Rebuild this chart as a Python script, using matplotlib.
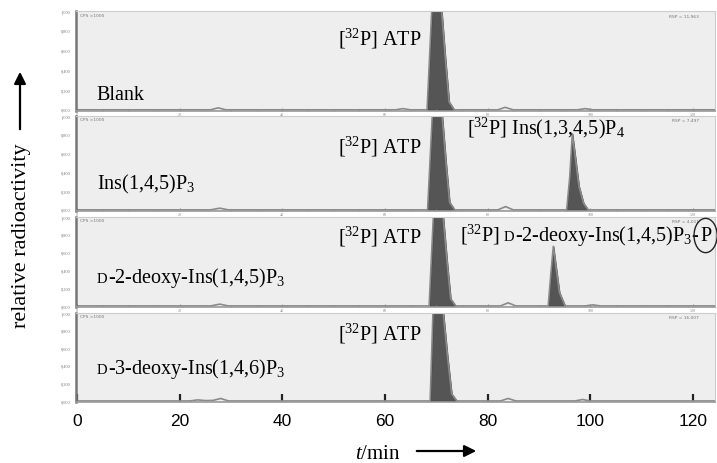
import numpy as np
import matplotlib
matplotlib.use("Agg")
import matplotlib.pyplot as plt
from matplotlib.patches import FancyArrowPatch

plt.rcParams['font.family'] = ['Liberation Serif', 'DejaVu Serif']
plt.rcParams['mathtext.fontset'] = 'custom'
plt.rcParams['mathtext.rm'] = 'Liberation Serif'
plt.rcParams['mathtext.it'] = 'Liberation Serif:italic'

# traces (time in min, relative radioactivity 0..1, ATP peak runs off scale)
blank_t = [0, 26, 27.5, 29, 62, 63.5, 65, 68.2, 69.2, 70.9, 71.8, 72.5, 73.5, 82, 83.4, 85, 97.5, 99, 100.5, 125]
blank_y = [0, 0, 0.02, 0, 0, 0.012, 0, 0, 1.1, 1.1, 0.5, 0.08, 0, 0, 0.025, 0, 0, 0.012, 0, 0]

ins145_t = [0, 26, 27.8, 29.5, 68.3, 69.3, 71.0, 71.9, 72.6, 73.6, 82, 83.5, 85, 95.4, 96.0, 96.5, 97.0, 97.8, 98.7, 99.6, 125]
ins145_y = [0, 0, 0.018, 0, 0, 1.1, 1.1, 0.5, 0.08, 0, 0, 0.035, 0, 0, 0.35, 0.81, 0.6, 0.25, 0.07, 0, 0]

deoxy2_t = [0, 26, 27.8, 29.5, 68.6, 69.5, 71.2, 72.1, 72.8, 73.8, 82.5, 84.0, 85.5, 91.8, 92.3, 92.8, 93.3, 94.0, 95.1, 99, 100.5, 102, 125]
deoxy2_y = [0, 0, 0.02, 0, 0, 1.1, 1.1, 0.5, 0.08, 0, 0, 0.035, 0, 0, 0.35, 0.67, 0.45, 0.15, 0, 0, 0.012, 0, 0]

deoxy3_t = [0, 22, 23.5, 25, 26.5, 28, 29.5, 68.8, 69.4, 71.2, 72.2, 73.0, 74.0, 82.5, 84.0, 85.5, 97, 98.5, 100, 125]
deoxy3_y = [0, 0, 0.012, 0.004, 0.006, 0.028, 0, 0, 1.1, 1.1, 0.5, 0.08, 0, 0, 0.028, 0, 0, 0.016, 0, 0]

# integrated (shaded) peak windows per run
peak_windows = [[(68.2, 73.5)],
                [(68.3, 73.6), (95.4, 99.6)],
                [(68.6, 73.8), (91.8, 95.1)],
                [(68.8, 74.0)]]

traces = [(blank_t, blank_y), (ins145_t, ins145_y), (deoxy2_t, deoxy2_y), (deoxy3_t, deoxy3_y)]
rsp_labels = ['RSP = 11,963', 'RSP = 7,497', 'RSP = 4,011', 'RSP = 16,007']
x_ticks = [0, 20, 40, 60, 80, 100, 120]
y_ticks = [0, 0.2, 0.4, 0.6, 0.8, 1.0]
y_tick_labels = ['0,000', '0,200', '0,400', '0,600', '0,800', '1,000']

W, H = 717, 464
fig = plt.figure(figsize=(W / 100, H / 100), dpi=100)
renderer = fig.canvas.get_renderer()

def fx(px):
    return px / W

def fy(py):
    return 1 - py / H

def chain(x_px, y_px, pieces):
    # pieces of text laid side by side on one baseline; (text, size, gap after, extra kwargs)
    x = x_px
    out = None
    for s, size, gap, kw in pieces:
        out = fig.text(fx(x), fy(y_px), s, fontsize=size, va='baseline', **kw)
        x = out.get_window_extent(renderer).x1 + gap
    return out

panel_rows = [(12, 112), (117, 212), (218, 308), (314, 403)]
left_px, right_px = 76, 715
axes = []
for i, (top, bot) in enumerate(panel_rows):
    ax = fig.add_axes([fx(left_px), fy(bot), fx(right_px - left_px), (bot - top) / H])
    ax.set_facecolor('#eeeeee')
    t, y = np.array(traces[i][0]), np.array(traces[i][1])
    ax.plot(t, y, color='#8a8a8a', lw=1.2)
    for lo, hi in peak_windows[i]:
        m = (t >= lo) & (t <= hi)
        ax.fill_between(t[m], 0, y[m], facecolor='#555555', edgecolor='#3a3a3a', lw=0.8)
    ax.set_xlim(-0.2, 124.3)
    ax.set_ylim(-0.012, 1.0)
    for s in ['top', 'right']:
        ax.spines[s].set_color('#cccccc')
        ax.spines[s].set_linewidth(0.8)
    ax.spines['left'].set_color('#777777')
    ax.spines['left'].set_linewidth(1.8)
    ax.spines['bottom'].set_color('#999999')
    ax.spines['bottom'].set_linewidth(1.2)
    ax.set_yticks(y_ticks)
    ax.set_yticklabels(y_tick_labels)
    ax.tick_params(axis='y', length=0, labelsize=3.2, labelcolor='#777777', pad=4)
    ax.text(0.006, 0.985, 'CPS \u00d71000', transform=ax.transAxes, fontsize=3.2,
            color='#777777', va='top', family='DejaVu Sans')
    ax.text(0.975, 0.975, rsp_labels[i], transform=ax.transAxes, fontsize=3.2,
            color='#777777', va='top', ha='right', family='DejaVu Sans')
    ax.set_xticks(x_ticks)
    if i < 3:
        ax.set_xticks(np.arange(0, 125, 5), minor=True)
        ax.tick_params(axis='x', which='minor', direction='in', length=1.5, color='#999999')
        ax.tick_params(axis='x', which='major', direction='in', length=2.5, color='#999999',
                       labelsize=3, labelcolor='#888888', pad=0.5)
    else:
        ax.tick_params(axis='x', which='major', direction='in', length=6, width=1.6,
                       color='#222222', labelsize=12.5, pad=8)
        for lab in ax.get_xticklabels():
            lab.set_family(['Liberation Sans', 'DejaVu Sans'])
    axes.append(ax)

FS = 14.5
SC = 10.5  # small-caps D

# [32P] ATP labels
for base in [45, 153, 243, 340]:
    fig.text(fx(422), fy(base), '[$^{32}$P] ATP', fontsize=FS, ha='right', va='baseline')

# sample names
fig.text(fx(96), fy(100), 'Blank', fontsize=FS, va='baseline')
fig.text(fx(97), fy(189), 'Ins(1,4,5)P$_3$', fontsize=FS, va='baseline')
chain(97, 283, [('D', SC, 0, {}), ('-2-deoxy-Ins(1,4,5)P$_3$', FS, 0, {})])
chain(97, 374, [('D', SC, 0, {}), ('-3-deoxy-Ins(1,4,6)P$_3$', FS, 0, {})])

# product labels
fig.text(fx(467), fy(134), '[$^{32}$P] Ins(1,3,4,5)P$_4$', fontsize=FS, va='baseline')
chain(460, 241, [('[$^{32}$P]', FS, 4, {}), ('D', SC, 0, {}),
                 ('-2-deoxy-Ins(1,4,5)P$_3$-', FS, 1, {}),
                 ('P', FS, 0, dict(bbox=dict(boxstyle='ellipse,pad=0.13', fc='none',
                                              ec='#222222', lw=1.0)))])

# axis titles with arrows
fig.text(fx(22), fy(236), 'relative radioactivity', fontsize=16, rotation=90,
         ha='center', va='center')
fig.add_artist(FancyArrowPatch((fx(20), fy(133)), (fx(20), fy(70)),
               transform=fig.transFigure, arrowstyle='-|>,head_width=3.5,head_length=7',
               color='black', lw=1.6))
fig.text(fx(378), fy(455), '$\\mathit{t}$/min', fontsize=15, ha='center', va='center')
fig.add_artist(FancyArrowPatch((fx(414), fy(452)), (fx(479), fy(452)),
               transform=fig.transFigure, arrowstyle='-|>,head_width=3.5,head_length=7',
               color='black', lw=1.6))

fig.savefig('out.png', dpi=100, facecolor='white')
